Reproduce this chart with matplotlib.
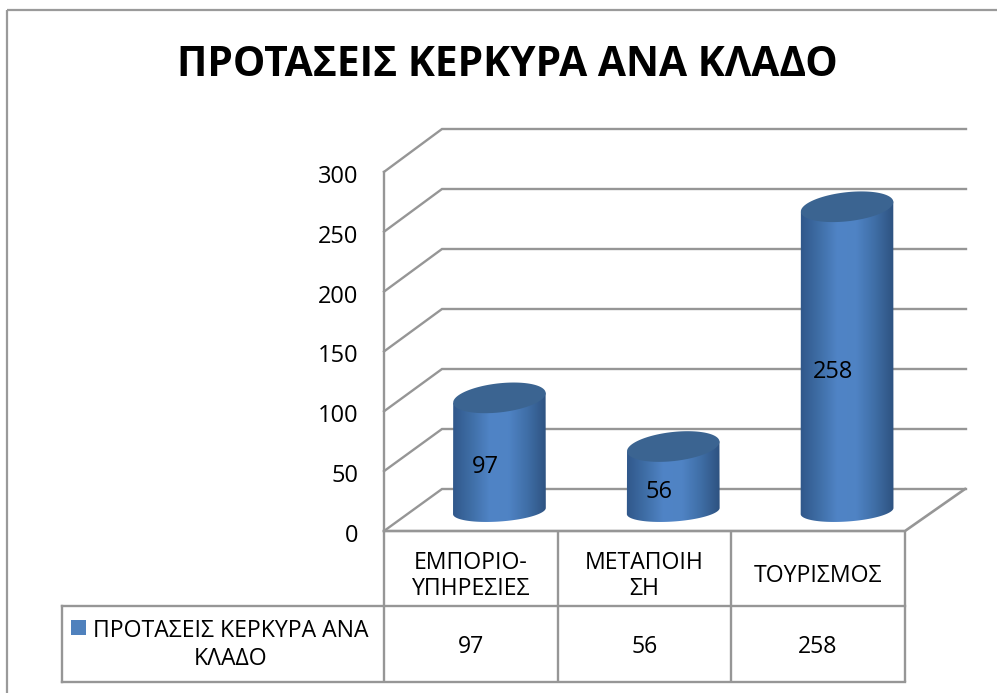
import numpy as np
import matplotlib
matplotlib.use('Agg')
import matplotlib.pyplot as plt
from matplotlib.colors import LinearSegmentedColormap
from matplotlib.patches import PathPatch, Rectangle
from matplotlib.path import Path

categories = ['ΕΜΠΟΡΙΟ-\nΥΠΗΡΕΣΙΕΣ', 'ΜΕΤΑΠΟΙΗ\nΣΗ', 'ΤΟΥΡΙΣΜΟΣ']
values = [97, 56, 258]
y_ticks = [0, 50, 100, 150, 200, 250, 300]
title = 'ΠΡΟΤΑΣΕΙΣ ΚΕΡΚΥΡΑ ΑΝΑ ΚΛΑΔΟ'
series_name = 'ΠΡΟΤΑΣΕΙΣ ΚΕΡΚΥΡΑ ΑΝΑ\nΚΛΑΔΟ'

W, H = 997, 693
GREY = '#969696'
plt.rcParams['font.family'] = ['Open Sans', 'DejaVu Sans']

body_cmap = LinearSegmentedColormap.from_list(
    'body', ['#30578a', '#3f6ea6', '#5084c6', '#4f83c4', '#3f6ea6', '#2e5280'])


def ellipse(t, a, b, tilt):
    # offsets in pixels, y pointing down the page
    ex = a * np.cos(t) * np.cos(tilt) - b * np.sin(t) * np.sin(tilt)
    ey = a * np.cos(t) * np.sin(tilt) + b * np.sin(t) * np.cos(tilt)
    return ex, ey


def main():
    fig = plt.figure(figsize=(W / 100, H / 100), dpi=100)

    # page axes in pixels, for the frame, the walls and the data table
    page = fig.add_axes([0, 0, 1, 1])
    page.set_xlim(0, W)
    page.set_ylim(H, 0)
    page.axis('off')

    # data axes sit on the middle plane of the 3d box, with room below 0 for the round base
    scale = 1.187
    left, right, y_low, y_high = 412.5, 934, 513 + 30 * scale, 513 - 300 * scale
    ax = fig.add_axes([left / W, 1 - y_low / H, (right - left) / W, (y_low - y_high) / H])
    ax.set_xlim(0, 3)
    ax.set_ylim(-30, 300)
    ax.axis('off')
    ax.patch.set_alpha(0)

    page.add_patch(Rectangle((7, 10), W + 20, H + 20, fill=False, ec='#9a9a9a', lw=1.6))
    page.text(507, 66, title, ha='center', va='center', fontsize=29.3,
              fontweight='bold', color='black')

    # walls and floor
    for v in y_ticks:
        yf = 531 - v * 1.197
        yb = 489 - v * 1.2
        page.plot([384, 442, 966], [yf, yb, yb], color=GREY, lw=1.7, solid_joinstyle='miter')
        page.text(358, yf + 5, str(v), ha='right', va='center', fontsize=17, color='black')
    page.plot([384, 384], [172, 531], color=GREY, lw=1.7)
    page.plot([384, 905, 965], [531, 531, 489], color=GREY, lw=1.9)

    # data table
    for x in [384, 558, 731, 905]:
        page.plot([x, x], [531, 682], color=GREY, lw=1.7, solid_capstyle='butt')
    page.plot([62, 905], [606, 606], color=GREY, lw=1.7)
    page.plot([62, 905], [682, 682], color=GREY, lw=1.7)
    page.plot([62, 62], [606, 682], color=GREY, lw=1.7)
    centers = [471, 644.5, 818]
    for cx, cat, val in zip(centers, categories, values):
        page.text(cx, 576, cat, ha='center', va='center', fontsize=16.6,
                  linespacing=1.1, color='black')
        page.text(cx, 647, str(val), ha='center', va='center', fontsize=16.6, color='black')
    page.add_patch(Rectangle((71, 620), 15, 15, fc='#4f81bd', ec='none'))
    page.text(231, 645, series_name, ha='center', va='center', fontsize=16.6,
              linespacing=1.2, color='black')

    # cylinders
    px_x = 3 / (right - left)
    px_y = 1 / scale
    half = np.linspace(np.pi, 0, 61)
    full = np.linspace(0, 2 * np.pi, 121)
    grad = np.linspace(0, 1, 200).reshape(1, -1)

    for i, val in enumerate(values):
        cx = i + 0.5
        bx, by = ellipse(half, 46.5, 10.5, np.radians(-4))
        tx, ty = ellipse(full, 46.5, 14.5, np.radians(-6.5))
        lx, ly = ellipse(np.array([np.pi, 0]), 46.5, 14.5, np.radians(-6.5))
        # the base ellipse stands 2 px above the zero plane
        side = np.column_stack([
            np.r_[cx + bx * px_x, cx + lx[1] * px_x, cx + lx[0] * px_x],
            np.r_[(2 - by) * px_y, val - ly[1] * px_y, val - ly[0] * px_y],
        ])
        clip_patch = PathPatch(Path(np.vstack([side, side[:1]])), fc='none', ec='none')
        ax.add_patch(clip_patch)
        im = ax.imshow(grad, cmap=body_cmap, aspect='auto', zorder=3,
                       extent=(cx - 47 * px_x, cx + 47 * px_x, -30, val + 30))
        im.set_clip_path(clip_patch)
        top = np.column_stack([cx + tx * px_x, val - ty * px_y])
        ax.add_patch(PathPatch(Path(top), fc='#3b6491', ec='none', zorder=4))
        ax.text(cx - 14 * px_x, val / 2 - 10, str(val), ha='center', va='center',
                fontsize=17, color='black', zorder=5)

    ax.set_xlim(0, 3)
    ax.set_ylim(-30, 300)
    fig.savefig('out.png', dpi=100)


if __name__ == '__main__':
    main()
